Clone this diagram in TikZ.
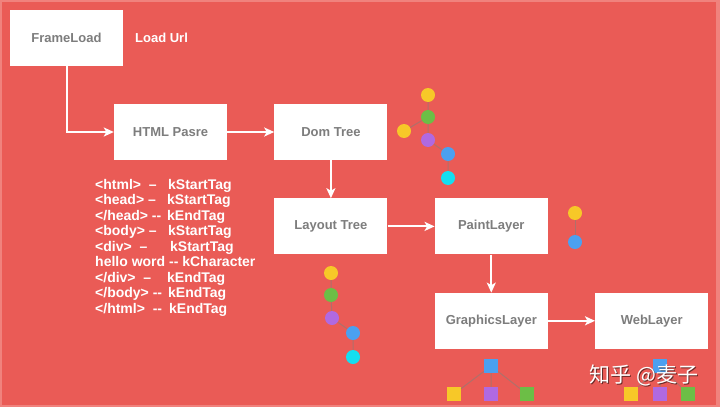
\documentclass[tikz,border=0pt]{standalone}
\usepackage{fontspec}
\setmainfont{Liberation Sans}
\newfontfamily\cjk{Noto Sans CJK SC}
\usetikzlibrary{arrows.meta, positioning}
\definecolor{bgred}{RGB}{234,91,86}
\definecolor{edgepink}{RGB}{240,130,125}
\definecolor{boxtext}{RGB}{125,125,125}
\definecolor{dotyellow}{RGB}{247,200,40}
\definecolor{dotgreen}{RGB}{108,190,70}
\definecolor{dotpurple}{RGB}{176,105,225}
\definecolor{dotblue}{RGB}{75,160,240}
\definecolor{dotcyan}{RGB}{20,222,240}
\definecolor{linkgray}{RGB}{175,112,106}
\tikzstyle{box} = [rectangle, minimum width=113pt, minimum height=56pt, text centered, fill=white, text=boxtext, font=\fontsize{13}{15}\selectfont\bfseries]
\tikzstyle{arrow} = [white, line width=2pt, ->, >={Stealth[length=10pt, width=9pt, inset=2.5pt]}]
\tikzstyle{dot} = [circle, inner sep=0pt, minimum size=14pt]
\tikzstyle{sq} = [rectangle, inner sep=0pt, minimum size=14pt]
\tikzstyle{link} = [linkgray, line width=1pt]
\tikzstyle{tok} = [anchor=base west, inner sep=0pt, text=white, font=\fontsize{14}{15.5}\selectfont\bfseries]
\newcommand{\tagcol}[2]{\makebox[#1][l]{#2}}

\begin{document}
\begin{tikzpicture}[x=1pt, y=-1pt, node distance=47pt]
            % background
            \fill [edgepink] (0,0) rectangle (720,407);
            \fill [bgred] (1.5,1.5) rectangle (716,405);

            % pipeline
            \node (frame)    [box] at (66.5,38) {FrameLoad};
            \node (loadurl)  [anchor=west, inner sep=0pt, text=white, font=\fontsize{13}{15}\selectfont\bfseries] at (135,38) {Load Url};
            \node (html)     [box] at (170.5,132) {HTML Pasre};
            \node (dom)      [box, right=47pt of html] {Dom Tree};
            \node (layout)   [box, below=38pt of dom] {Layout Tree};
            \node (paint)    [box, right=47pt of layout] {PaintLayer};
            \node (graphics) [box, below=38pt of paint] {GraphicsLayer};
            \node (web)      [box, right=47pt of graphics] {WebLayer};

            \draw [arrow] (frame)    |- (html);
            \draw [arrow] (html)     -- (dom);
            \draw [arrow] (dom)      -- (layout);
            \draw [arrow] (layout)   -- (paint);
            \draw [arrow] (paint)    -- (graphics);
            \draw [arrow] (graphics) -- (web);

            % tokens
            \foreach \t [count=\i from 0] in {
                {\tagcol{73pt}{<html>\ \ –}kStartTag},
                {\tagcol{72pt}{<head> –}kStartTag},
                {\tagcol{72pt}{</head> -{}-}kEndTag},
                {\tagcol{73pt}{<body> –}kStartTag},
                {\tagcol{75pt}{<div>\ \ –}kStartTag},
                {hello word -{}- kCharacter},
                {\tagcol{72pt}{</div>\ \ –}kEndTag},
                {\tagcol{73pt}{</body> -{}-}kEndTag},
                {\tagcol{74pt}{</html>\ \ -{}-}kEndTag}}
                \node (tok\i) [tok] at (95,189+15.5*\i) {\t};

            % dom tree dots
            \node (ya) [dot, fill=dotyellow] at (428,95)  {};
            \node (ga) [dot, fill=dotgreen]  at (428,117) {};
            \node (yb) [dot, fill=dotyellow] at (404,131) {};
            \node (pa) [dot, fill=dotpurple] at (428,140) {};
            \node (ba) [dot, fill=dotblue]   at (448,154) {};
            \node (ca) [dot, fill=dotcyan]   at (448,178) {};
            \draw [link] (ya) -- (ga) (ga) -- (yb) (ga) -- (pa) (pa) -- (ba) (ba) -- (ca);

            % paint layer dots
            \node (yc) [dot, fill=dotyellow] at (575,213) {};
            \node (bc) [dot, fill=dotblue]   at (575,242) {};
            \draw [link] (yc) -- (bc);

            % layout tree dots
            \node (yd) [dot, fill=dotyellow] at (331,273) {};
            \node (gd) [dot, fill=dotgreen]  at (331,295) {};
            \node (pd) [dot, fill=dotpurple] at (332,318) {};
            \node (bd) [dot, fill=dotblue]   at (353,333) {};
            \node (cd) [dot, fill=dotcyan]   at (353,357) {};
            \draw [link] (yd) -- (gd) (gd) -- (pd) (pd) -- (bd) (bd) -- (cd);

            % layer squares
            \node (sqb1) [sq, fill=dotblue]   at (491,366) {};
            \node (sqy1) [sq, fill=dotyellow] at (454,394) {};
            \node (sqp1) [sq, fill=dotpurple] at (491,394) {};
            \node (sqg1) [sq, fill=dotgreen]  at (527,394) {};
            \draw [link] (sqb1) -- (sqy1) (sqb1) -- (sqp1) (sqb1) -- (sqg1);

            \node (sqb2) [sq, fill=dotblue]   at (660,366) {};
            \node (sqy2) [sq, fill=dotyellow] at (631,394) {};
            \node (sqp2) [sq, fill=dotpurple] at (660,394) {};
            \node (sqg2) [sq, fill=dotgreen]  at (688,394) {};
            \draw [link] (sqb2) -- (sqy2) (sqb2) -- (sqp2) (sqb2) -- (sqg2);

            % watermark
            \node (markshadow) [text=black, opacity=0.55, font=\cjk\fontsize{21}{21}\selectfont] at (645.2,376.2) {知乎 @麦子};
            \node (mark) [text=white, font=\cjk\fontsize{21}{21}\selectfont] at (644,375) {知乎 @麦子};
        \end{tikzpicture}
\end{document}
